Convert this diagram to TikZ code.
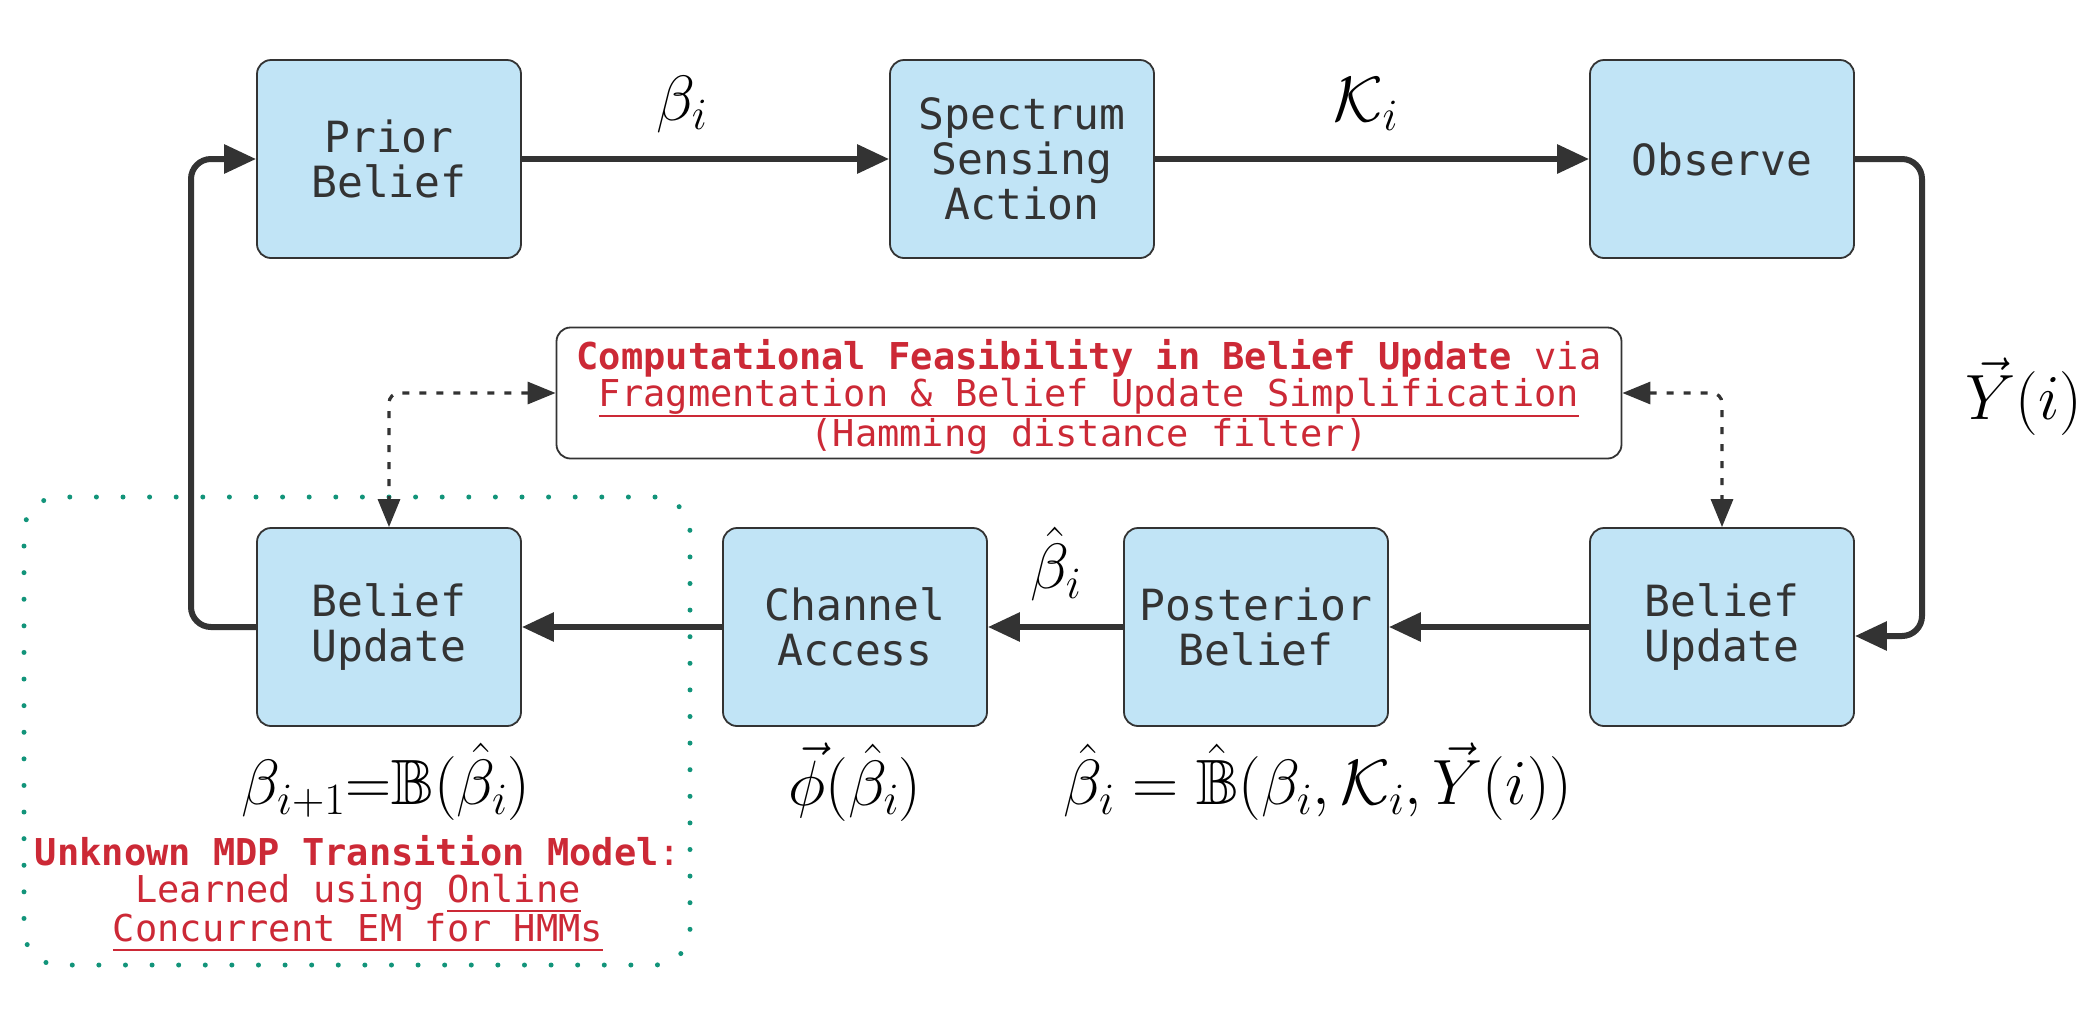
\RequirePackage{fix-cm}
\documentclass[tikz,border=0pt]{standalone}
\usepackage{fontspec}
\usepackage{amssymb}
\setmonofont{DejaVu Sans Mono}
\usetikzlibrary{arrows.meta}
\definecolor{boxfill}{RGB}{193,228,246}
\definecolor{dk}{RGB}{51,51,51}
\definecolor{rd}{RGB}{204,41,54}
\definecolor{tl}{RGB}{18,148,122}
\newcommand{\myul}[1]{{\setbox0\hbox{#1}\rlap{\rule[-10pt]{\wd0}{2pt}}\box0}}
\tikzset{
 blk/.style={draw=dk, line width=1.8pt, fill=boxfill, rounded corners=14pt, minimum width=264pt, minimum height=198pt, inner sep=0pt, align=center, font=\fontsize{43}{45}\selectfont\ttfamily, text=dk},
 flow/.style={draw=dk, line width=6pt, -{Triangle[length=32pt,width=28pt]}, rounded corners=20pt},
 hint/.style={draw=dk, line width=3.2pt, dash pattern=on 7pt off 10pt, {Triangle[length=28pt,width=22pt]}-{Triangle[length=28pt,width=22pt]}, rounded corners=10pt},
 mlab/.style={font=\fontsize{64}{64}\selectfont, inner sep=0pt},
 rtext/.style={text=rd, font=\fontsize{37}{37}\selectfont\ttfamily, align=center, inner sep=0pt}
}
\begin{document}
\begin{tikzpicture}[x=1pt,y=-1pt]
\useasboundingbox (0,0) rectangle (2096,1013);
% group
\node[draw=tl, line width=5pt, line cap=round, dash pattern=on 0pt off 26.6pt, rounded corners=35pt, minimum width=666pt, minimum height=468pt, inner sep=0pt] (grp) at (357,731) {};
% blocks
\node[blk] (prior) at (389,159) {Prior\\Belief};
\node[blk] (sense) at (1022,159) {Spectrum\\Sensing\\Action};
\node[blk] (obs) at (1722,159) {Observe};
\node[blk] (buR) at (1722,627) {Belief\\Update};
\node[blk] (post) at (1256,627) {Posterior\\Belief};
\node[blk] (chan) at (855,627) {Channel\\Access};
\node[blk] (buL) at (389,627) {Belief\\Update};
% middle note
\node[draw=dk, line width=1.8pt, fill=white, rounded corners=14pt, minimum width=1065pt, minimum height=131pt, rtext] (mid) at (1089,393)
 {\rule{0pt}{38pt}\textbf{Computational Feasibility in Belief Update} via\\\myul{Fragmentation \& Belief Update Simplification}\\(Hamming distance filter)};
% coordinates for loops
\coordinate (lx) at (191,0);
\coordinate (rx) at (1922,0);
% flows
\draw[flow] (prior.east) -- (sense.west);
\draw[flow] (sense.east) -- (obs.west);
\draw[flow] (obs.east) -- (obs.east -| rx) -- ([yshift=-9pt]buR.east -| rx) -- ([yshift=-9pt]buR.east);
\draw[flow] (buR.west) -- (post.east);
\draw[flow] (post.west) -- (chan.east);
\draw[flow] (chan.west) -- (buL.east);
\draw[flow] (buL.west) -- (buL.west -| lx) -- (prior.west -| lx) -- (prior.west);
% dotted hints
\draw[hint] (mid.west) -- (mid.west -| buL.north) -- (buL.north);
\draw[hint] (mid.east) -- (mid.east -| buR.north) -- (buR.north);
% math labels
\node[mlab] (lb1) at (682,104) {$\beta_i$};
\node[mlab] (lb2) at (1366,104) {$\mathcal{K}_i$};
\node[mlab] (lb3) at (2024,397) {$\vec{Y}(i)$};
\node[mlab] (lb4) at (1056,564) {$\hat{\beta}_i$};
\node[mlab] (lb5) at (855,782) {$\vec{\phi}(\hat{\beta}_i)$};
\node[mlab] (lb6) at (386,782) {$\beta_{i+1}{=}\mathbb{B}(\hat{\beta}_i)$};
\node[mlab] (lb7) at (1318,782) {$\hat{\beta}_i=\hat{\mathbb{B}}(\beta_i,\mathcal{K}_i,\vec{Y}(i))$};
% group text
\node[rtext] (unk) at (358,893) {\textbf{Unknown MDP Transition Model}:\\Learned using \myul{Online}\\\myul{Concurrent EM for HMMs}};
\end{tikzpicture}
\end{document}
